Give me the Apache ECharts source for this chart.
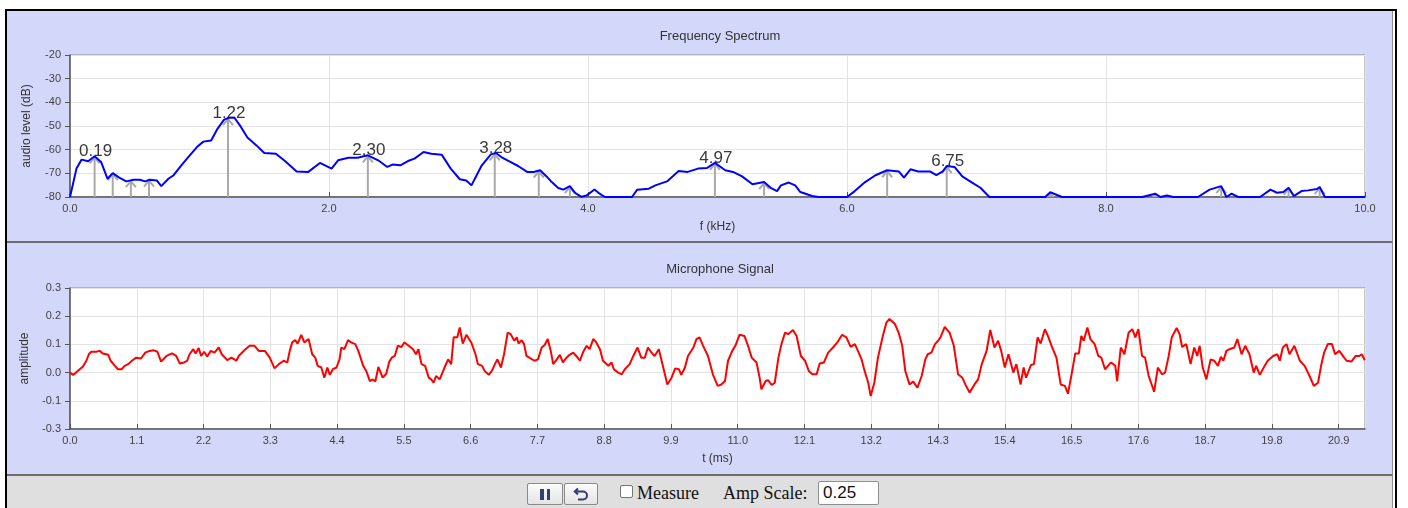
<!DOCTYPE html>
<html><head><meta charset="utf-8">
<script src="https://cdn.jsdelivr.net/npm/echarts@6/dist/echarts.min.js"></script>
<style>
html,body{margin:0;padding:0;background:#fff;}
body{width:1408px;height:508px;overflow:hidden;position:relative;font-family:Arial,"Liberation Sans",sans-serif;}
#frame{position:absolute;left:5px;top:9px;width:1388px;height:520px;border:2px solid #000;border-bottom:none;background:#fff;}
.panel{position:absolute;left:7px;width:1385px;background:#d3d8fb;border-right:1px solid #8c8c8c;}
#p1{top:11px;height:230px;border-bottom:2px solid #6e6e6e;}
#p2{top:243px;height:231px;border-bottom:2px solid #6e6e6e;}
#bar{position:absolute;left:7px;top:476px;width:1385px;height:40px;background:#dfdfdf;border-right:1px solid #8c8c8c;}
#chart{position:absolute;left:0;top:0;width:1408px;height:476px;}
.btn{position:absolute;top:483px;height:22px;box-sizing:border-box;border:1px solid #8a8a8a;border-radius:2px;background:linear-gradient(#fbfbfb,#e4e4e4);display:flex;align-items:center;justify-content:center;}
#b1{left:527px;width:36px;}
#b2{left:564px;width:34px;}
.bar{display:inline-block;width:3.5px;height:11px;background:#33406a;margin:0 1.5px;}
#chk{position:absolute;left:620px;top:485px;width:13px;height:13px;box-sizing:border-box;border:1px solid #767676;border-radius:2px;background:#fff;}
.lbl{position:absolute;top:482px;line-height:22px;font-family:"Times New Roman","Liberation Serif",serif;font-size:18px;color:#111;}
#inp{position:absolute;left:818px;top:481px;width:61px;height:24px;box-sizing:border-box;border:1px solid #8f8f8f;border-radius:2px;background:#fff;font-family:Arial,"Liberation Sans",sans-serif;font-size:17px;line-height:22px;padding-left:4px;color:#111;}
</style>
</head>
<body>
<div id="frame"></div>
<div class="panel" id="p1"></div>
<div class="panel" id="p2"></div>
<div id="bar"></div>
<div id="chart"></div>
<div class="btn" id="b1"><span class="bar"></span><span class="bar"></span></div>
<div class="btn" id="b2"><svg width="16" height="14" viewBox="0 0 16 14"><path d="M5 1.5 L1.8 4.5 L5 7.5 M2 4.5 H10 A4 4 0 0 1 10 12.5 H5" fill="none" stroke="#33406a" stroke-width="2"/></svg></div>
<div id="chk"></div>
<span class="lbl" style="left:637px">Measure</span>
<span class="lbl" style="left:723px">Amp Scale:</span>
<div id="inp">0.25</div>
<script>
// ---------- data ----------
const specFreq = [0,0.05,0.09,0.14,0.19,0.24,0.29,0.33,0.38,0.435,
0.49,0.54,0.58,0.615,0.67,0.705,0.76,0.80,0.86,0.91,
0.98,1.03,1.09,1.14,1.19,1.23,1.27,1.32,1.37,1.44,
1.50,1.59,1.66,1.75,1.84,1.93,2.02,2.07,2.15,2.22,
2.30,2.38,2.45,2.49,2.55,2.61,2.66,2.73,2.79,2.87,
2.94,3.01,3.06,3.10,3.18,3.25,3.29,3.33,3.40,3.46,
3.53,3.58,3.63,3.68,3.72,3.77,3.81,3.86,3.90,3.95,
3.99,4.05,4.09,4.13,4.34,4.38,4.47,4.52,4.61,4.70,
4.77,4.85,4.92,4.98,5.06,5.12,5.19,5.27,5.36,5.41,
5.46,5.49,5.55,5.60,5.64,5.73,5.78,6.00,6.06,6.14,
6.22,6.31,6.40,6.44,6.49,6.55,6.64,6.69,6.74,6.77,
6.83,6.89,6.96,7.03,7.10,7.53,7.57,7.66,8.28,8.38,
8.42,8.47,8.52,8.71,8.80,8.89,8.93,8.97,9.02,9.19,
9.27,9.32,9.37,9.41,9.45,9.51,9.56,9.63,9.65,9.69,
10];
const specLevel = [-80,-68,-64.2,-64.9,-62.8,-65.2,-72.3,-69.9,-71.8,-73.4,
-72.7,-72.7,-73.4,-72.7,-73,-75.4,-72.3,-70.8,-66.6,-63.4,
-58.9,-56.6,-56.1,-51.1,-47.3,-46.5,-46.5,-50.4,-54.9,-58.2,
-61.4,-61.7,-64.8,-69.2,-69.4,-65.6,-68,-64.5,-63.4,-63.4,
-62.4,-64.5,-67.3,-66.3,-66.6,-64.8,-63.8,-61,-61.7,-62.1,
-68,-72.5,-73,-75.1,-66.6,-62,-61.4,-63.1,-65.2,-66.9,
-69.4,-69.4,-68.7,-71.3,-73.7,-76.2,-76.9,-75.4,-78.3,-79.9,
-79.3,-76.8,-78.6,-80,-80,-76.9,-76.5,-75.1,-73.4,-69,
-69.4,-68,-67.7,-65.6,-68.7,-69.4,-71.3,-74.6,-73.7,-76.1,
-77.5,-75.1,-73.9,-75.1,-77.9,-79.6,-80,-80,-77.5,-73.7,
-70.8,-68.7,-69.2,-71.8,-68.3,-69.2,-69.2,-70.8,-69.2,-66.9,
-67.3,-71.3,-73.7,-76.1,-80,-80,-78,-80,-80,-78.6,
-80,-79.4,-80,-80,-76.9,-75.4,-80,-78.6,-80,-80,
-76.9,-78.2,-77.9,-76.1,-79.6,-77.5,-77.2,-76.6,-75.8,-80,
-80];

const peakFreq  = [0.19,0.33,0.47,0.61,1.22,2.30,3.28,3.62,3.86,4.98,5.36,6.31,6.77,7.57,8.38,8.89,9.41,9.65];
const peakLevel = [-62.8,-69.9,-72.9,-72.7,-46.7,-62.4,-61.6,-68.8,-75.4,-65.6,-73.7,-68.7,-66.9,-78,-78.6,-75.4,-76.1,-75.8];
const peakLabel = ['0.19','','','','1.22','2.30','3.28','','','4.97','','','6.75','','','','',''];

const signalPoints = [
[0.00,0.000],[0.05,-0.008],[0.10,0.000],[0.16,0.012],[0.21,0.021],[0.27,0.042],[0.31,0.065],[0.35,0.074],[0.43,0.074],[0.49,0.077],
[0.54,0.068],[0.63,0.063],[0.67,0.042],[0.74,0.024],[0.79,0.012],[0.85,0.012],[0.90,0.024],[0.96,0.030],[1.02,0.042],[1.09,0.053],
[1.17,0.050],[1.24,0.071],[1.31,0.077],[1.38,0.079],[1.44,0.074],[1.50,0.039],[1.59,0.059],[1.68,0.068],[1.75,0.059],[1.81,0.032],
[1.88,0.036],[1.93,0.042],[1.97,0.065],[2.03,0.083],[2.07,0.068],[2.12,0.087],[2.16,0.059],[2.21,0.074],[2.26,0.057],[2.32,0.077],
[2.38,0.071],[2.45,0.089],[2.50,0.065],[2.59,0.044],[2.66,0.053],[2.74,0.042],[2.78,0.059],[2.82,0.068],[2.89,0.083],[2.96,0.095],
[3.04,0.095],[3.11,0.077],[3.21,0.077],[3.29,0.053],[3.37,0.015],[3.44,0.030],[3.52,0.042],[3.58,0.036],[3.62,0.077],[3.66,0.107],
[3.71,0.115],[3.75,0.103],[3.81,0.134],[3.86,0.107],[3.93,0.119],[3.99,0.065],[4.04,0.053],[4.08,0.024],[4.14,0.018],[4.19,-0.018],
[4.24,0.018],[4.28,-0.008],[4.33,0.012],[4.39,0.018],[4.44,0.047],[4.47,0.089],[4.52,0.083],[4.58,0.115],[4.63,0.107],[4.70,0.101],
[4.75,0.077],[4.83,0.024],[4.88,0.006],[4.94,-0.030],[4.99,-0.024],[5.03,-0.032],[5.08,0.020],[5.15,-0.018],[5.21,-0.004],[5.26,0.039],
[5.30,0.053],[5.35,0.059],[5.40,0.095],[5.46,0.091],[5.51,0.107],[5.58,0.095],[5.65,0.083],[5.70,0.065],[5.74,0.083],[5.79,0.030],
[5.85,0.024],[5.91,-0.018],[5.95,-0.024],[5.99,-0.036],[6.03,-0.012],[6.09,-0.024],[6.17,0.018],[6.23,0.047],[6.28,0.030],[6.32,0.125],
[6.38,0.125],[6.42,0.160],[6.47,0.103],[6.53,0.134],[6.61,0.107],[6.68,0.065],[6.72,0.030],[6.79,0.024],[6.83,0.006],[6.90,-0.008],
[6.95,0.006],
[7.00,0.030],[7.04,0.047],[7.10,0.018],[7.15,0.065],[7.21,0.142],[7.26,0.136],[7.32,0.113],[7.36,0.125],[7.39,0.103],[7.44,0.115],
[7.48,0.101],[7.52,0.059],[7.58,0.051],[7.65,0.042],[7.71,0.047],[7.77,0.089],[7.82,0.098],[7.87,0.119],[7.92,0.077],[7.96,0.030],
[8.02,0.047],[8.07,0.063],[8.12,0.036],[8.18,0.053],[8.23,0.063],[8.29,0.071],[8.34,0.059],[8.40,0.042],[8.45,0.071],[8.51,0.095],
[8.56,0.083],[8.62,0.119],[8.67,0.107],[8.73,0.083],[8.78,0.042],[8.87,0.024],[8.92,0.036],[8.96,0.012],[9.03,0.000],[9.09,-0.006],
[9.14,0.012],[9.22,0.030],[9.28,0.059],[9.35,0.089],[9.41,0.053],[9.47,0.053],[9.52,0.089],[9.58,0.071],[9.63,0.059],[9.70,0.083],
[9.74,0.047],[9.80,-0.006],[9.84,-0.042],[9.91,-0.018],[9.97,0.015],[10.03,0.012],[10.07,-0.008],[10.13,0.018],[10.18,0.059],[10.27,0.089],
[10.32,0.119],[10.37,0.125],[10.43,0.095],[10.51,0.059],[10.59,-0.006],[10.67,-0.047],[10.73,-0.042],[10.79,-0.030],[10.84,0.042],[10.91,0.077],
[10.96,0.095],[11.03,0.134],[11.11,0.130],[11.17,0.095],[11.23,0.053],[11.31,0.036],[11.36,-0.018],[11.39,-0.059],[11.46,-0.030],[11.50,-0.027],
[11.56,-0.044],[11.61,-0.036],[11.67,0.053],[11.72,0.101],[11.78,0.142],[11.83,0.136],[11.91,0.151],[11.97,0.130],[12.04,0.059],[12.11,0.042],
[12.17,0.006],[12.23,-0.006],[12.30,-0.006],[12.35,0.032],[12.42,0.036],[12.49,0.071],[12.57,0.089],[12.64,0.107],[12.72,0.134],[12.79,0.125],
[12.86,0.091],[12.93,0.101],[12.98,0.077],[13.04,0.047],[13.09,0.006],[13.15,-0.036],[13.19,-0.083],[13.25,-0.036],[13.31,0.053],[13.39,0.130],
[13.45,0.178],[13.50,0.190],[13.59,0.172],[13.65,0.142],[13.71,0.095],[13.76,0.006],[13.83,-0.042],[13.89,-0.032],[13.96,-0.053],[14.03,-0.012],
[14.09,0.047],
[14.13,0.065],[14.19,0.071],[14.25,0.101],[14.30,0.113],[14.34,0.125],[14.41,0.162],[14.49,0.142],[14.56,0.095],[14.63,-0.006],[14.70,-0.018],
[14.75,-0.042],[14.82,-0.071],[14.90,-0.042],[14.96,-0.024],[15.02,0.030],[15.10,0.077],[15.16,0.151],[15.23,0.089],[15.29,0.113],[15.34,0.077],
[15.40,0.018],[15.46,0.065],[15.54,0.000],[15.59,0.030],[15.66,-0.042],[15.71,0.018],[15.75,-0.018],[15.83,0.027],[15.88,0.030],[15.94,0.125],
[15.99,0.103],[16.06,0.154],[16.11,0.130],[16.17,0.095],[16.25,0.053],[16.32,-0.042],[16.39,-0.047],[16.44,-0.075],[16.51,0.006],[16.56,0.068],
[16.62,0.068],[16.66,0.130],[16.70,0.113],[16.76,0.160],[16.81,0.119],[16.88,0.101],[16.94,0.059],[16.99,0.053],[17.05,0.012],[17.10,0.024],
[17.15,0.036],[17.22,0.024],[17.25,-0.030],[17.31,0.089],[17.37,0.065],[17.44,0.142],[17.50,0.154],[17.55,0.125],[17.60,0.154],[17.66,0.059],
[17.71,0.053],[17.77,-0.012],[17.86,-0.068],[17.92,0.018],[17.99,-0.006],[18.04,0.000],[18.10,0.059],[18.15,0.125],[18.23,0.158],[18.28,0.136],
[18.32,0.091],[18.39,0.101],[18.46,0.030],[18.52,0.089],[18.57,0.059],[18.61,0.095],[18.66,0.018],[18.72,-0.024],[18.79,0.047],[18.85,0.042],
[18.91,0.024],[18.96,0.056],[19.00,0.042],[19.05,0.077],[19.10,0.083],[19.18,0.089],[19.23,0.119],[19.30,0.065],[19.36,0.095],[19.43,0.065],
[19.50,0.000],[19.54,0.024],[19.60,-0.008],[19.67,0.020],[19.73,0.042],[19.82,0.059],[19.89,0.065],[19.93,0.042],[19.98,0.089],[20.04,0.101],
[20.09,0.065],[20.17,0.095],[20.26,0.042],[20.34,0.024],[20.42,-0.012],[20.49,-0.047],[20.56,-0.036],[20.61,0.024],[20.66,0.071],[20.72,0.101],
[20.79,0.101],[20.84,0.065],[20.91,0.077],[20.99,0.053],[21.03,0.042],[21.11,0.039],[21.18,0.059],[21.24,0.059],[21.28,0.065],[21.33,0.044]
];

const freqMin = 0, freqMax = 10, freqStep = 2;
const levelMin = -80, levelMax = -20, levelStep = 10;
const timeMin = 0, timeMax = 1024 / 48, timeStep = 1.1;
const ampMin = -0.2, ampMax = 0.3, ampStep = 0.1;
const ampTickValues = [-0.2, -0.1, 0, 0.1, 0.2, 0.3];
const ampTickLabels = ['-0.3', '-0.1', '0.0', '0.1', '0.2', '0.3'];

// ---------- chart ----------
const FONT = 'Arial, "Liberation Sans", sans-serif';
const TXT = '#333';
function xAxisStyle(extra) {
  return Object.assign({
    type: 'value', nameLocation: 'middle', nameGap: 24,
    nameTextStyle: { fontSize: 12, color: TXT, fontFamily: FONT },
    axisLine: { show: true, onZero: false, lineStyle: { color: '#555', width: 1.5 } },
    axisTick: { show: true, inside: true, length: 5, lineStyle: { color: '#555' } },
    axisLabel: { fontSize: 11, color: '#444', margin: 6, fontFamily: FONT, formatter: v => v.toFixed(1) },
    splitLine: { show: true, lineStyle: { color: '#e3e3e3', width: 1 } }
  }, extra);
}
function yAxisStyle(extra) {
  return Object.assign({
    type: 'value', nameLocation: 'middle', nameRotate: 90, nameGap: 37,
    nameTextStyle: { fontSize: 12, color: TXT, fontFamily: FONT },
    axisLine: { show: true, onZero: false, lineStyle: { color: '#555', width: 1.5 } },
    axisTick: { show: true, inside: false, length: 5, lineStyle: { color: '#555' } },
    axisLabel: { fontSize: 11, color: '#444', margin: 9, fontFamily: FONT },
    splitLine: { show: true, lineStyle: { color: '#e3e3e3', width: 1 } }
  }, extra);
}

const chart = echarts.init(document.getElementById('chart'), null, { renderer: 'canvas' });
chart.setOption({
  animation: false,
  backgroundColor: 'transparent',
  title: [
    { text: 'Frequency Spectrum', left: 715, top: 25, textAlign: 'center', textVerticalAlign: 'top',
      textStyle: { fontSize: 13, fontWeight: 'normal', color: TXT, fontFamily: FONT } },
    { text: 'Microphone Signal', left: 715, top: 258, textAlign: 'center', textVerticalAlign: 'top',
      textStyle: { fontSize: 13, fontWeight: 'normal', color: TXT, fontFamily: FONT } }
  ],
  grid: [
    { left: 70, top: 55, width: 1295, height: 142, show: true, backgroundColor: '#fff', borderColor: '#8a8a8a', borderWidth: 1, containLabel: false },
    { left: 70, top: 288, width: 1295, height: 141, show: true, backgroundColor: '#fff', borderColor: '#8a8a8a', borderWidth: 1, containLabel: false }
  ],
  xAxis: [
    xAxisStyle({ gridIndex: 0, min: freqMin, max: freqMax, interval: freqStep, name: 'f (kHz)' }),
    xAxisStyle({ gridIndex: 1, min: timeMin, max: timeMax, interval: timeStep, name: 't (ms)',
      axisLabel: { fontSize: 11, color: '#444', margin: 6, fontFamily: FONT, showMaxLabel: false, formatter: v => v.toFixed(1) } })
  ],
  yAxis: [
    yAxisStyle({ gridIndex: 0, min: levelMin, max: levelMax, interval: levelStep, name: 'audio level (dB)' }),
    yAxisStyle({ gridIndex: 1, min: ampMin, max: ampMax, interval: ampStep, name: 'amplitude',
      axisLabel: { fontSize: 11, color: '#444', margin: 9, fontFamily: FONT,
        formatter: v => { const i = ampTickValues.findIndex(t => Math.abs(t - v) < 1e-6); return i >= 0 ? ampTickLabels[i] : ''; } } })
  ],
  series: [
    {
      type: 'custom', xAxisIndex: 0, yAxisIndex: 0, z: 3, clip: true,
      data: peakFreq.map((f, i) => [f, peakLevel[i]]),
      renderItem: function (params, api) {
        const f = api.value(0), lv = api.value(1);
        const base = api.coord([f, levelMin]);
        const tip = api.coord([f, lv]);
        const lbl = peakLabel[params.dataIndex];
        const children = [];
        if (lbl) {
          children.push({ type: 'text', z2: 1, style: { text: lbl, x: tip[0] + 1, y: tip[1] - 5, align: 'center', verticalAlign: 'middle',
            fontSize: 17, fontFamily: FONT, fill: '#3a3a3a' } });
        }
        children.push({ type: 'line', z2: 2, shape: { x1: base[0], y1: base[1], x2: tip[0], y2: tip[1] + 1 },
          style: { stroke: '#a9a9a9', lineWidth: 2 } });
        children.push({ type: 'polyline', z2: 2, shape: { points: [[tip[0] - 5, tip[1] + 7], [tip[0], tip[1] + 1], [tip[0] + 5, tip[1] + 7]] },
          style: { stroke: '#a9a9a9', lineWidth: 2, fill: null } });
        return { type: 'group', children: children };
      }
    },
    {
      type: 'line', xAxisIndex: 0, yAxisIndex: 0, z: 4,
      data: specFreq.map((f, i) => [f, specLevel[i]]),
      symbol: 'none', showSymbol: false,
      lineStyle: { color: '#0000ff', width: 2 }
    },
    {
      type: 'line', xAxisIndex: 1, yAxisIndex: 1, z: 4,
      data: signalPoints,
      symbol: 'none', showSymbol: false,
      lineStyle: { color: '#ff0000', width: 2 }
    }
  ]
});
</script>
</body></html>
